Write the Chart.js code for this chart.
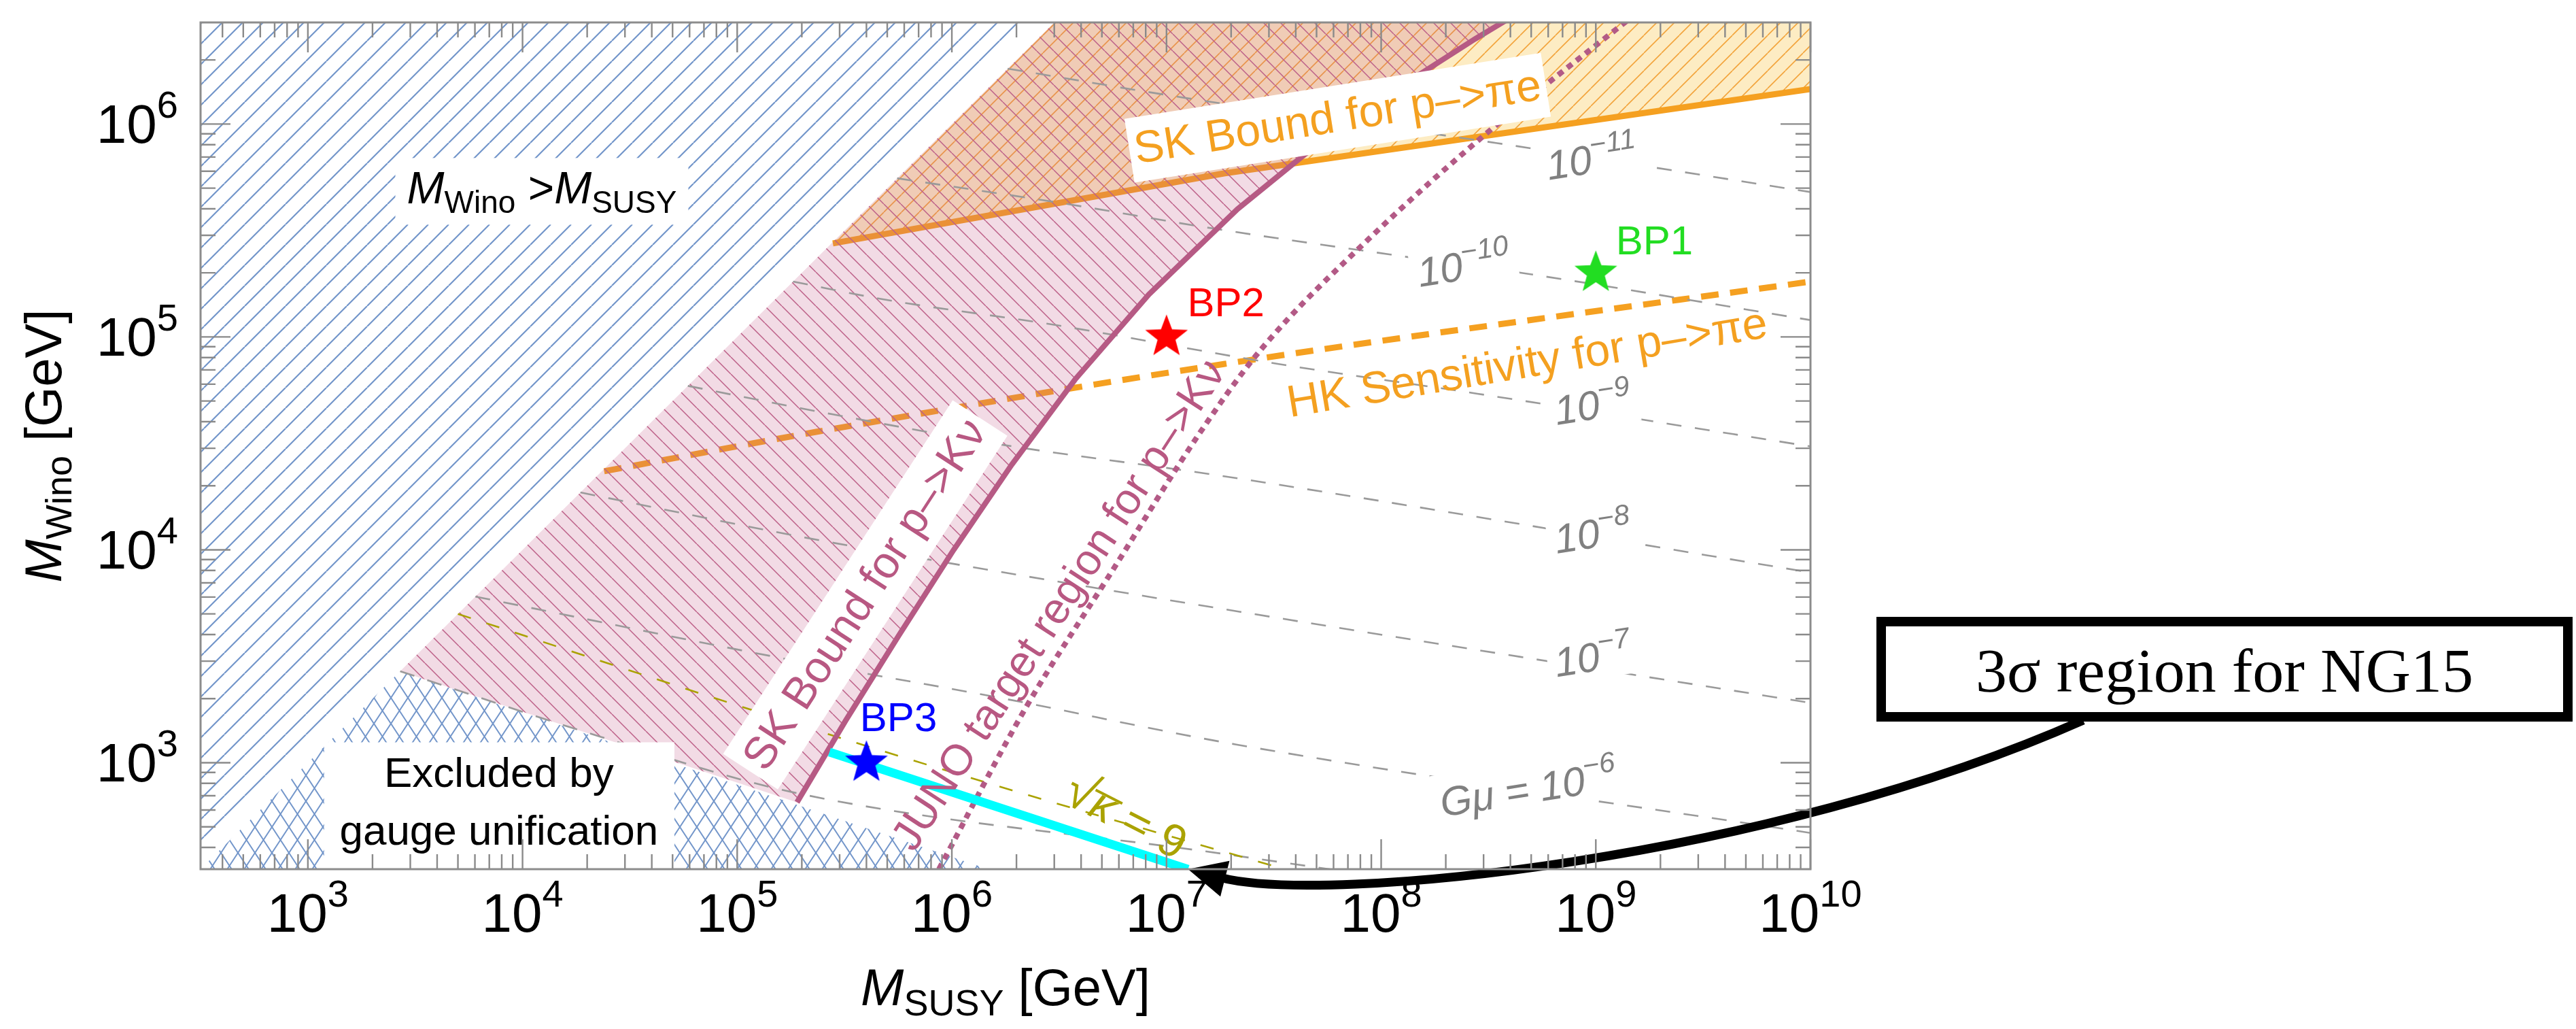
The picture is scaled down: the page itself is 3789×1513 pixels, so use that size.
<!DOCTYPE html>
<html>
<head>
<meta charset="utf-8">
<script src="https://cdn.jsdelivr.net/npm/chart.js@4.4.1/dist/chart.umd.min.js"></script>
<style>
html,body{margin:0;padding:0;background:#ffffff;}
#c{display:block;}
</style>
</head>
<body>
<canvas id="c" width="3789" height="1513"></canvas>
<script>
// ---------------- axis ranges and ticks ----------------
const xRange = [316.23, 1e10];
const yRange = [316.23, 3.0e6];
const xTickValues = [1e3, 1e4, 1e5, 1e6, 1e7, 1e8, 1e9, 1e10];
const xTickExps   = ['3', '4', '5', '6', '7', '8', '9', '10'];
const yTickValues = [1e3, 1e4, 1e5, 1e6];
const yTickExps   = ['3', '4', '5', '6'];

// ---------------- regions ----------------
// M_Wino > M_SUSY (blue hatched)
const winoAboveX = [100, 5.0e6, 100];
const winoAboveY = [129, 6.45e6, 6.45e6];
// excluded by gauge unification (blue cross-hatched)
const gaugeX = [100, 2690, 1.48e6, 1.48e6];
const gaugeY = [100, 2690, 316, 100];
// diagonal edge of the proton-decay regions
const diagX = [2690, 3.98e6];
const diagY = [2690, 3.98e6];
// SK bound for p -> K nu (bottom to top)
const skKvX = [1.90e5, 3.21e5, 5.68e5, 1.02e6, 1.90e6, 3.75e6, 8.28e6, 2.14e7, 6.58e7, 2.74e8, 5.86e8];
const skKvY = [652, 1585, 3981, 1.0e4, 2.51e4, 6.31e4, 1.585e5, 3.98e5, 1.0e6, 2.51e6, 3.98e6];
// SK bound for p -> pi e
const skPiX = [2.79e5, 1.85e7, 1e10];
const skPiY = [2.75e5, 5.86e5, 1.46e6];
const skPiTopX = [1e10, 3.98e6];
const skPiTopY = [3.98e6, 3.98e6];
// HK sensitivity for p -> pi e
const hkX = [2.40e4, 2.33e5, 1.85e7, 1e10];
const hkY = [2.34e4, 3.58e4, 7.46e4, 1.82e5];
// JUNO target region for p -> K nu
const junoX = [8.7e5, 2.23e6, 5.66e6, 1.44e7, 2.75e7, 8.83e7, 3.24e8, 1.32e9, 2.0e9];
const junoY = [316, 1841, 8128, 3.58e4, 8.71e4, 2.91e5, 9.4e5, 2.92e6, 4.07e6];
// 3 sigma region for NG15 (cyan)
const ng15X = [2.69e5, 1.26e7];
const ng15Y = [1122, 316];
// sqrt(kappa) = 9
const kappaX = [5.0e3, 1.16e5, 1.41e6, 3.55e7];
const kappaY = [5.0e3, 1774, 813, 316];
// G mu contours
const gmu11X = [1.82e6, 1.26e7, 3.47e8, 1e10];
const gmu11Y = [1.82e6, 1.32e6, 8.13e5, 4.79e5];
const gmu10X = [5.56e5, 3.16e6, 1.62e7, 1.23e8, 4.79e8, 1e10];
const gmu10Y = [5.56e5, 4.27e5, 3.24e5, 2.40e5, 1.98e5, 1.20e5];
const gmu9X = [1.82e5, 4.82e5, 2.99e6, 3.33e7, 2.81e8, 1e10];
const gmu9Y = [1.82e5, 1.50e5, 1.14e5, 7.46e4, 5.41e4, 3.06e4];
const gmu8X = [5.89e4, 2.33e5, 1.77e6, 1.73e7, 1e10];
const gmu8Y = [5.89e4, 4.48e4, 3.10e4, 2.24e4, 7.83e3];
const gmu7X = [1.86e4, 2.09e5, 8.81e5, 2.19e7, 1e10];
const gmu7Y = [1.86e4, 1.14e4, 8.81e3, 5.12e3, 1.91e3];
const gmu6X = [6.03e3, 1.61e5, 1.58e6, 2.09e7, 1e10];
const gmu6Y = [6.03e3, 3.10e3, 2.04e3, 1.22e3, 468];
const gmu5X = [2.69e3, 2.33e4, 1.80e5, 1.81e7, 5.75e7];
const gmu5Y = [2.69e3, 1.32e3, 728, 374, 316];
// benchmark points
const bpNames = ['BP1', 'BP2', 'BP3'];
const bpX = [1e9, 1e7, 4e5];
const bpY = [2e5, 1e5, 1e3];
const bpColors = ['#22dd22', '#ff0000', '#0000ff'];
// contour label texts
const gmuLabelExps = ['−11', '−10', '−9', '−8', '−7', '−6'];

// ---------------- annotation placement (data coordinates) ----------------
const ANN = {
  wino:  {x: 1.23e4, y: 4.83e5, w: 431, h: 98},
  gauge: {x0: 1190, x1: 5.1e4, yTop: 1247, cx: 7.76e3, y1: 771, y2: 411},
  skPi:  {x: 6.27e7, y: 1.07e6, w: 620, h: 95, angle: -9},
  hk:    {x: 4.79e8, y: 7.5e4, angle: -9.5},
  skKv:  {x: 3.95e5, y: 6150, w: 620, h: 96, angle: -57},
  juno:  {x: 3.16e6, y: 5500, angle: -57},
  bpLab: [{x: 1.24e9, y: 2.75e5}, {x: 1.25e7, y: 1.41e5}, {x: 3.73e5, y: 1585}],
  gmuLab: [{x: 9.55e8, y: 7.02e5}, {x: 2.42e8, y: 2.21e5}, {x: 9.66e8, y: 4.90e4},
           {x: 9.66e8, y: 1.22e4}, {x: 9.66e8, y: 3214}, {x: 4.84e8, y: 771}],
  kappa: {x: 6.5e6, y: 560, angle: 27}
};
const NG15 = {left: 2760, top: 907, right: 3784, bottom: 1061, border: 14,
              startX: 3064, c1: [2600, 1265], c2: [1950, 1330]};

const SANS = '"Liberation Sans", Arial, Helvetica, sans-serif';
const SERIF = '"Liberation Serif", "Times New Roman", serif';

function pts(xs, ys) { return xs.map((v, i) => ({x: v, y: ys[i]})); }

const canvas = document.getElementById('c');
const ctx0 = canvas.getContext('2d');

function hatchPattern(w, h, bg, color, lw, dirs) {
  const c = document.createElement('canvas');
  c.width = w; c.height = h;
  const g = c.getContext('2d');
  if (bg) { g.fillStyle = bg; g.fillRect(0, 0, w, h); }
  g.strokeStyle = color; g.lineWidth = lw;
  g.beginPath();
  for (let k = -1; k <= 1; k++) {
    if (dirs.indexOf('/') >= 0) { g.moveTo(k * w, h); g.lineTo(k * w + w, 0); }
    if (dirs.indexOf('\\') >= 0) { g.moveTo(k * w, 0); g.lineTo(k * w + w, h); }
  }
  g.stroke();
  return ctx0.createPattern(c, 'repeat');
}

function starImg(color, R) {
  const s = Math.ceil(2 * R + 4);
  const c = document.createElement('canvas');
  c.width = s; c.height = s;
  const g = c.getContext('2d');
  g.fillStyle = color;
  g.beginPath();
  for (let i = 0; i < 10; i++) {
    const a = -Math.PI / 2 + i * Math.PI / 5;
    const r = (i % 2) ? R * 0.42 : R;
    const px = s / 2 + r * Math.cos(a), py = s / 2 + r * Math.sin(a);
    if (i === 0) g.moveTo(px, py); else g.lineTo(px, py);
  }
  g.closePath(); g.fill();
  return c;
}

const bluePat  = hatchPattern(30, 30, null, '#7396ca', 2.2, '/');
const crossPat = hatchPattern(25, 38, null, '#7396ca', 2.0, '/\\');
const orangePat = hatchPattern(26, 26, 'rgba(250,198,80,0.34)', '#f2a43c', 1.6, '/');
const pinkPat  = hatchPattern(25, 25, 'rgba(195,90,135,0.22)', '#bd6088', 1.5, '\\');

const pinkPolygon = pts(diagX, diagY).concat(pts(skKvX.slice().reverse(), skKvY.slice().reverse()));
const orangePolygon = pts(skPiX, skPiY).concat(pts(skPiTopX, skPiTopY));

function regionDS(label, data, pat, order) {
  return {label, data, fill: 'shape', backgroundColor: pat, borderColor: 'rgba(0,0,0,0)',
          borderWidth: 0, pointRadius: 0, tension: 0, order, clip: 0};
}
function lineDS(label, data, color, width, dash, order, smooth) {
  return {label, data, fill: false, borderColor: color, borderWidth: width, borderDash: dash || [],
          borderCapStyle: 'butt', pointRadius: 0, tension: 0, order, clip: 0,
          cubicInterpolationMode: smooth ? 'monotone' : 'default'};
}

const gmuColor = '#9a9a9a';
const datasets = [
  regionDS('M_Wino > M_SUSY', pts(winoAboveX, winoAboveY), bluePat, 20),
  regionDS('Excluded by gauge unification', pts(gaugeX, gaugeY), crossPat, 19),
  regionDS('SK bound p->pi e region', orangePolygon, orangePat, 18),
  lineDS('SK bound p->pi e', pts(skPiX, skPiY), '#f5a020', 9, null, 17, false),
  lineDS('HK sensitivity p->pi e', pts(hkX, hkY), '#f5a020', 9, [26, 17], 16, true),
  regionDS('SK bound p->K nu region', pinkPolygon, pinkPat, 15),
  lineDS('Gmu 1e-11', pts(gmu11X, gmu11Y), gmuColor, 2.6, [22, 20], 14, true),
  lineDS('Gmu 1e-10', pts(gmu10X, gmu10Y), gmuColor, 2.6, [22, 20], 14, true),
  lineDS('Gmu 1e-9', pts(gmu9X, gmu9Y), gmuColor, 2.6, [22, 20], 14, true),
  lineDS('Gmu 1e-8', pts(gmu8X, gmu8Y), gmuColor, 2.6, [22, 20], 14, true),
  lineDS('Gmu 1e-7', pts(gmu7X, gmu7Y), gmuColor, 2.6, [22, 20], 14, true),
  lineDS('Gmu 1e-6', pts(gmu6X, gmu6Y), gmuColor, 2.6, [22, 20], 14, true),
  lineDS('Gmu 1e-5', pts(gmu5X, gmu5Y), gmuColor, 2.6, [22, 20], 14, true),
  lineDS('sqrt(kappa)=9', pts(kappaX, kappaY), '#aaa200', 2.6, [20, 24], 13, true),
  lineDS('SK bound p->K nu', pts(skKvX, skKvY), '#b65a84', 8, null, 12, false),
  lineDS('JUNO target p->K nu', pts(junoX, junoY), '#b35a86', 8, [9, 8], 11, true),
  lineDS('3 sigma NG15', pts(ng15X, ng15Y), '#00ffff', 13, null, 10, false),
  {label: 'Benchmark points', data: pts(bpX, bpY), showLine: false, order: 1, clip: 0,
   pointStyle: bpColors.map(c => starImg(c, 33)), pointRadius: 33, borderWidth: 0}
];

// ---------------- text helpers ----------------
function runsWidth(ctx, runs) {
  let w = 0;
  for (const r of runs) { ctx.font = r.font; w += ctx.measureText(r.t).width; }
  return w;
}
function drawRuns(ctx, runs, x, y, align) {
  const w = runsWidth(ctx, runs);
  let cx = align === 'center' ? x - w / 2 : (align === 'right' ? x - w : x);
  ctx.textAlign = 'left'; ctx.textBaseline = 'alphabetic';
  for (const r of runs) {
    ctx.font = r.font;
    ctx.fillText(r.t, cx, y + (r.dy || 0));
    cx += ctx.measureText(r.t).width;
  }
  return w;
}
function rotatedLabel(ctx, px, py, angleDeg, text, font, color, box) {
  ctx.save();
  ctx.translate(px, py);
  ctx.rotate(angleDeg * Math.PI / 180);
  if (box) { ctx.fillStyle = '#ffffff'; ctx.fillRect(-box.w / 2, -box.h / 2, box.w, box.h); }
  ctx.fillStyle = color; ctx.font = font;
  ctx.textAlign = 'center'; ctx.textBaseline = 'middle';
  ctx.fillText(text, 0, 2);
  ctx.restore();
}

// ---------------- plugins ----------------
const bgPlugin = {
  id: 'bg',
  beforeDraw(chart) {
    const c = chart.ctx;
    c.save(); c.fillStyle = '#ffffff'; c.fillRect(0, 0, chart.width, chart.height); c.restore();
  }
};

const annPlugin = {
  id: 'ann',
  afterDatasetsDraw(chart) {
    const {ctx, chartArea: ca, scales: {x, y}} = chart;
    const X = v => x.getPixelForValue(v), Y = v => y.getPixelForValue(v);
    ctx.save();
    ctx.beginPath(); ctx.rect(ca.left, ca.top, ca.width, ca.height); ctx.clip();

    // M_Wino > M_SUSY box
    let a = ANN.wino, cx = X(a.x), cy = Y(a.y);
    ctx.fillStyle = '#ffffff'; ctx.fillRect(cx - a.w / 2, cy - a.h / 2, a.w, a.h);
    ctx.fillStyle = '#000000';
    drawRuns(ctx, [
      {t: 'M', font: 'italic 66px ' + SANS},
      {t: 'Wino', font: '46px ' + SANS, dy: 14},
      {t: ' >', font: '66px ' + SANS},
      {t: 'M', font: 'italic 66px ' + SANS},
      {t: 'SUSY', font: '46px ' + SANS, dy: 14}
    ], cx, cy + 18, 'center');

    // Excluded by gauge unification box
    const g = ANN.gauge;
    ctx.fillStyle = '#ffffff';
    ctx.fillRect(X(g.x0), Y(g.yTop), X(g.x1) - X(g.x0), ca.bottom - Y(g.yTop));
    ctx.fillStyle = '#000000'; ctx.font = '62px ' + SANS;
    ctx.textAlign = 'center'; ctx.textBaseline = 'alphabetic';
    ctx.fillText('Excluded by', X(g.cx), Y(g.y1));
    ctx.fillText('gauge unification', X(g.cx), Y(g.y2));

    // proton decay labels
    a = ANN.skPi;
    rotatedLabel(ctx, X(a.x), Y(a.y), a.angle, 'SK Bound for p–>πe', '66px ' + SANS, '#f4a020', {w: a.w, h: a.h});
    a = ANN.hk;
    rotatedLabel(ctx, X(a.x), Y(a.y), a.angle, 'HK Sensitivity for p–>πe', '66px ' + SANS, '#f4a020', null);
    a = ANN.skKv;
    rotatedLabel(ctx, X(a.x), Y(a.y), a.angle, 'SK Bound for p–>Kν', '66px ' + SANS, '#b85882', {w: a.w, h: a.h});
    a = ANN.juno;
    rotatedLabel(ctx, X(a.x), Y(a.y), a.angle, 'JUNO target region for p–>Kν', '64px ' + SANS, '#b85882', null);

    // benchmark labels
    ctx.font = '60px ' + SANS; ctx.textAlign = 'left'; ctx.textBaseline = 'middle';
    ANN.bpLab.forEach((p, i) => { ctx.fillStyle = bpColors[i]; ctx.fillText(bpNames[i], X(p.x), Y(p.y)); });

    // G mu labels
    ANN.gmuLab.forEach((p, i) => {
      const runs = [];
      if (i === gmuLabelExps.length - 1) runs.push({t: 'Gμ = ', font: 'italic 60px ' + SANS});
      runs.push({t: '10', font: 'italic 60px ' + SANS});
      runs.push({t: gmuLabelExps[i], font: 'italic 42px ' + SANS, dy: -27});
      const w = runsWidth(ctx, runs);
      ctx.save();
      ctx.translate(X(p.x), Y(p.y));
      ctx.rotate(-9 * Math.PI / 180);
      ctx.fillStyle = '#ffffff'; ctx.fillRect(-w / 2 - 10, -38, w + 20, 74);
      ctx.fillStyle = '#808080';
      drawRuns(ctx, runs, 0, 24, 'center');
      ctx.restore();
    });

    // sqrt(kappa) = 9
    a = ANN.kappa;
    ctx.save();
    ctx.translate(X(a.x), Y(a.y));
    ctx.rotate(a.angle * Math.PI / 180);
    ctx.fillStyle = '#aaa200'; ctx.strokeStyle = '#aaa200';
    const kr = [{t: '√', font: '76px ' + SANS}, {t: 'κ', font: 'italic 68px ' + SANS}, {t: ' = 9', font: '68px ' + SANS}];
    const kw = runsWidth(ctx, kr);
    ctx.font = kr[0].font;
    const m0 = ctx.measureText('√'); const w0 = m0.width; const top0 = m0.actualBoundingBoxAscent || 60;
    ctx.font = kr[1].font; const w1 = ctx.measureText('κ').width;
    const base = 24;
    drawRuns(ctx, kr, 0, base, 'center');
    ctx.lineWidth = 4;
    ctx.beginPath();
    ctx.moveTo(-kw / 2 + w0 - 4, base - top0 + 2);
    ctx.lineTo(-kw / 2 + w0 + w1 + 6, base - top0 + 2);
    ctx.stroke();
    ctx.restore();

    ctx.restore();
  }
};

const framePlugin = {
  id: 'frame',
  afterDraw(chart) {
    const {ctx, chartArea: ca, scales: {x, y}} = chart;
    const X = v => x.getPixelForValue(v), Y = v => y.getPixelForValue(v);
    ctx.save();

    // NG15 callout box and arrow
    const b = NG15, hb = b.border / 2;
    ctx.fillStyle = '#ffffff';
    ctx.fillRect(b.left, b.top, b.right - b.left, b.bottom - b.top);
    ctx.strokeStyle = '#000000'; ctx.lineWidth = b.border;
    ctx.strokeRect(b.left + hb, b.top + hb, b.right - b.left - b.border, b.bottom - b.top - b.border);
    ctx.fillStyle = '#000000'; ctx.font = '92px ' + SERIF;
    ctx.textAlign = 'center'; ctx.textBaseline = 'alphabetic';
    ctx.fillText('3σ region for NG15', (b.left + b.right) / 2, 1017);
    const tipX = X(ng15X[ng15X.length - 1]), tipY = Y(ng15Y[ng15Y.length - 1]);
    let dx = tipX - b.c2[0], dy = tipY - b.c2[1];
    const dl = Math.hypot(dx, dy); dx /= dl; dy /= dl;
    const headLen = 56, headHalf = 27;
    const baseX = tipX - dx * headLen, baseY = tipY - dy * headLen;
    ctx.lineWidth = 13; ctx.lineCap = 'butt';
    ctx.beginPath();
    ctx.moveTo(b.startX, b.bottom - 2);
    ctx.bezierCurveTo(b.c1[0], b.c1[1], b.c2[0], b.c2[1], baseX + dx * 6, baseY + dy * 6);
    ctx.stroke();
    ctx.beginPath();
    ctx.moveTo(tipX, tipY);
    ctx.lineTo(baseX - dy * headHalf, baseY + dx * headHalf);
    ctx.lineTo(baseX + dy * headHalf, baseY - dx * headHalf);
    ctx.closePath(); ctx.fill();

    // ticks (inward, all four sides)
    const xMinor = [], yMinor = [];
    for (let e = 2; e <= 9; e++) {
      for (let m = 2; m <= 9; m++) {
        const v = m * Math.pow(10, e);
        if (v > xRange[0] && v < xRange[1]) xMinor.push(v);
        if (v > yRange[0] && v < yRange[1]) yMinor.push(v);
      }
    }
    ctx.strokeStyle = '#8a8a8a'; ctx.lineWidth = 2.4;
    ctx.beginPath();
    const tx = (v, len) => { const p = X(v); ctx.moveTo(p, ca.bottom); ctx.lineTo(p, ca.bottom - len); ctx.moveTo(p, ca.top); ctx.lineTo(p, ca.top + len); };
    const ty = (v, len) => { const p = Y(v); ctx.moveTo(ca.left, p); ctx.lineTo(ca.left + len, p); ctx.moveTo(ca.right, p); ctx.lineTo(ca.right - len, p); };
    xTickValues.forEach(v => tx(v, 44)); xMinor.forEach(v => tx(v, 22));
    yTickValues.forEach(v => ty(v, 44)); yMinor.forEach(v => ty(v, 22));
    ctx.stroke();
    ctx.lineWidth = 3; ctx.strokeStyle = '#8c8c8c';
    ctx.strokeRect(ca.left, ca.top, ca.width, ca.height);

    // tick labels
    ctx.fillStyle = '#000000';
    xTickValues.forEach((v, i) => {
      drawRuns(ctx, [{t: '10', font: '80px ' + SANS}, {t: xTickExps[i], font: '56px ' + SANS, dy: -37}], X(v), ca.bottom + 92, 'center');
    });
    yTickValues.forEach((v, i) => {
      drawRuns(ctx, [{t: '10', font: '80px ' + SANS}, {t: yTickExps[i], font: '56px ' + SANS, dy: -37}], ca.left - 33, Y(v) + 28, 'right');
    });

    // axis titles
    drawRuns(ctx, [
      {t: 'M', font: 'italic 76px ' + SANS},
      {t: 'SUSY', font: '54px ' + SANS, dy: 15},
      {t: ' [GeV]', font: '76px ' + SANS}
    ], (ca.left + ca.right) / 2, ca.bottom + 200, 'center');
    ctx.save();
    ctx.translate(ca.left - 205, (ca.top + ca.bottom) / 2);
    ctx.rotate(-Math.PI / 2);
    drawRuns(ctx, [
      {t: 'M', font: 'italic 76px ' + SANS},
      {t: 'Wino', font: '54px ' + SANS, dy: 15},
      {t: ' [GeV]', font: '76px ' + SANS}
    ], 0, 0, 'center');
    ctx.restore();

    ctx.restore();
  }
};

new Chart(canvas, {
  type: 'line',
  data: {datasets},
  options: {
    responsive: false,
    animation: false,
    devicePixelRatio: 1,
    events: [],
    layout: {padding: {left: 295, right: 1126, top: 19, bottom: 235}},
    scales: {
      x: {type: 'logarithmic', min: xRange[0], max: xRange[1], display: false},
      y: {type: 'logarithmic', min: yRange[0], max: yRange[1], display: false}
    },
    plugins: {legend: {display: false}, tooltip: {enabled: false}}
  },
  plugins: [bgPlugin, annPlugin, framePlugin]
});
</script>
</body>
</html>
